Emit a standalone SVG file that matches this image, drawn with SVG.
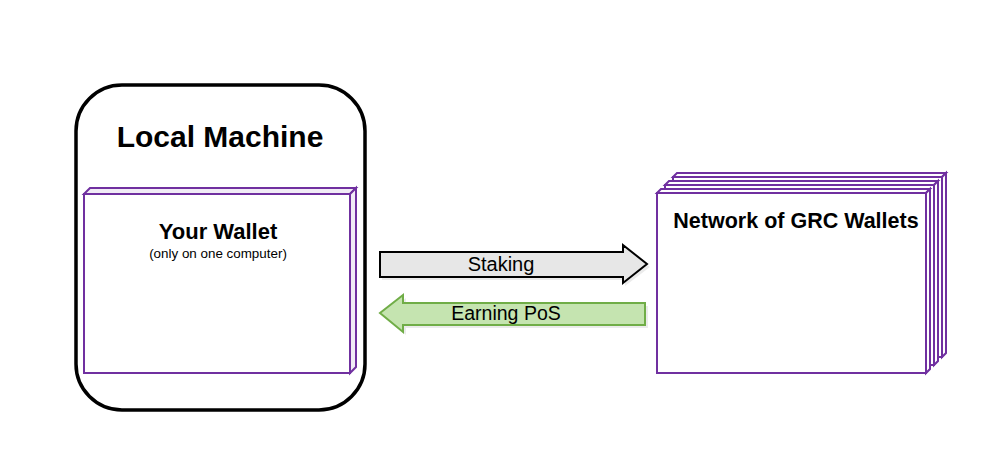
<svg xmlns="http://www.w3.org/2000/svg" width="1005" height="474" viewBox="0 0 1005 474">
<style>
.bg{fill:#ffffff}
.machine{fill:#ffffff;stroke:#000000;stroke-width:3.5}
.face{fill:#ffffff;stroke:#7030a0;stroke-width:2;stroke-linejoin:miter}
.side{fill:#f1ecf6;stroke:#7030a0;stroke-width:2;stroke-linejoin:miter}
.t{font-family:"Liberation Sans","Open Sans",sans-serif;font-weight:bold;fill:#000000}
.r{font-family:"Liberation Sans","Open Sans",sans-serif;fill:#000000}
.staking{fill:#e7e7e7;stroke:#000000;stroke-width:2;stroke-linejoin:miter}
.earning{fill:#c5e4b0;stroke:#70ad47;stroke-width:2;stroke-linejoin:miter}
.shadow{fill:#000000;opacity:0.08}
</style>
<rect class="bg" x="0" y="0" width="1005" height="474"/>

<g id="local-machine">
  <rect class="machine" x="76" y="85" width="289" height="325" rx="46" ry="46"/>
  <text class="t" x="220" y="147" font-size="30" text-anchor="middle">Local Machine</text>
</g>

<g id="your-wallet">
  <polygon class="side" points="84,194 90,188 356,188 350,194"/>
  <polygon class="side" points="350,194 356,188 356,367 350,373"/>
  <rect class="face" x="84" y="194" width="266" height="179"/>
  <text class="t" x="218" y="239" font-size="22" text-anchor="middle">Your Wallet</text>
  <text class="r" x="218" y="258" font-size="13.4" text-anchor="middle">(only on one computer)</text>
</g>

<g id="network">
  <g id="network-back">
    <polygon class="face" points="673,177 677,173 946,173 942,177"/>
    <polygon class="face" points="942,177 946,173 946,353 942,357"/>
    <rect class="face" x="673" y="177" width="269" height="180"/>
  </g>
  <g id="network-middle">
    <polygon class="face" points="665,185 669,181 938,181 934,185"/>
    <polygon class="face" points="934,185 938,181 938,361 934,365"/>
    <rect class="face" x="665" y="185" width="269" height="180"/>
  </g>
  <g id="network-front">
    <polygon class="face" points="657,193 661,189 930,189 926,193"/>
    <polygon class="face" points="926,193 930,189 930,369 926,373"/>
    <rect class="face" x="657" y="193" width="269" height="180"/>
  </g>
  <text class="t" x="796" y="228" font-size="21.5" text-anchor="middle">Network of GRC Wallets</text>
</g>

<g id="connectors">
  <g id="staking-arrow">
    <polygon class="shadow" points="382,255 625,255 625,248 650,267 625,286 625,280 382,280"/>
    <polygon class="staking" points="380,252 623,252 623,245 647,264 623,283 623,277 380,277"/>
    <text class="r" x="501" y="271" font-size="20" text-anchor="middle">Staking</text>
  </g>
  <g id="earning-arrow">
    <polygon class="shadow" points="648,306 406,306 406,298 383,316 406,335 406,328 648,328"/>
    <polygon class="earning" points="645,303 403,303 403,295 380,313 403,332 403,325 645,325"/>
    <text class="r" x="506" y="320" font-size="19.5" text-anchor="middle">Earning PoS</text>
  </g>
</g>
</svg>
